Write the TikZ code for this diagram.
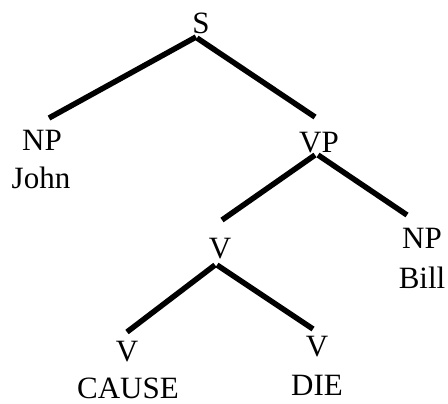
\documentclass[tikz,border=0pt]{standalone}
\usepackage{fontspec}
\setmainfont{Liberation Serif}
\begin{document}
\begin{tikzpicture}[x=1bp,y=-1bp,
  lbl/.style={anchor=base,inner sep=0pt,font=\fontsize{31bp}{36bp}\selectfont},
  branch/.style={line width=5.5bp,line cap=butt}]
\useasboundingbox (0,0) rectangle (448,403);
% category labels and words
\node[lbl] (s)     at (201,33)  {S};
\node[lbl] (np1)   at (42,150)  {NP};
\node[lbl] (john)  at (41,188)  {John};
\node[lbl] (vp)    at (319,152) {VP};
\node[lbl] (v1)    at (220,258) {V};
\node[lbl] (np2)   at (422,248) {NP};
\node[lbl] (bill)  at (422,288) {Bill};
\node[lbl] (v2)    at (127,361) {V};
\node[lbl] (cause) at (128,398) {CAUSE};
\node[lbl] (v3)    at (317,356) {V};
\node[lbl] (die)   at (317,395) {DIE};
% branches
\draw[branch] ([shift={(-5,4)}]s.base)  -- ([shift={(7,-32)}]np1.base);
\draw[branch] ([shift={(-4,5)}]s.base)  -- ([shift={(-4,-35)}]vp.base);
\draw[branch] ([shift={(-4,3)}]vp.base) -- ([shift={(2,-38)}]v1.base);
\draw[branch] ([shift={(-1,3)}]vp.base) -- ([shift={(-15,-33)}]np2.base);
\draw[branch] ([shift={(-5,7)}]v1.base) -- ([shift={(0,-29)}]v2.base);
\draw[branch] ([shift={(-3,7)}]v1.base) -- ([shift={(-4,-27)}]v3.base);
\end{tikzpicture}
\end{document}
